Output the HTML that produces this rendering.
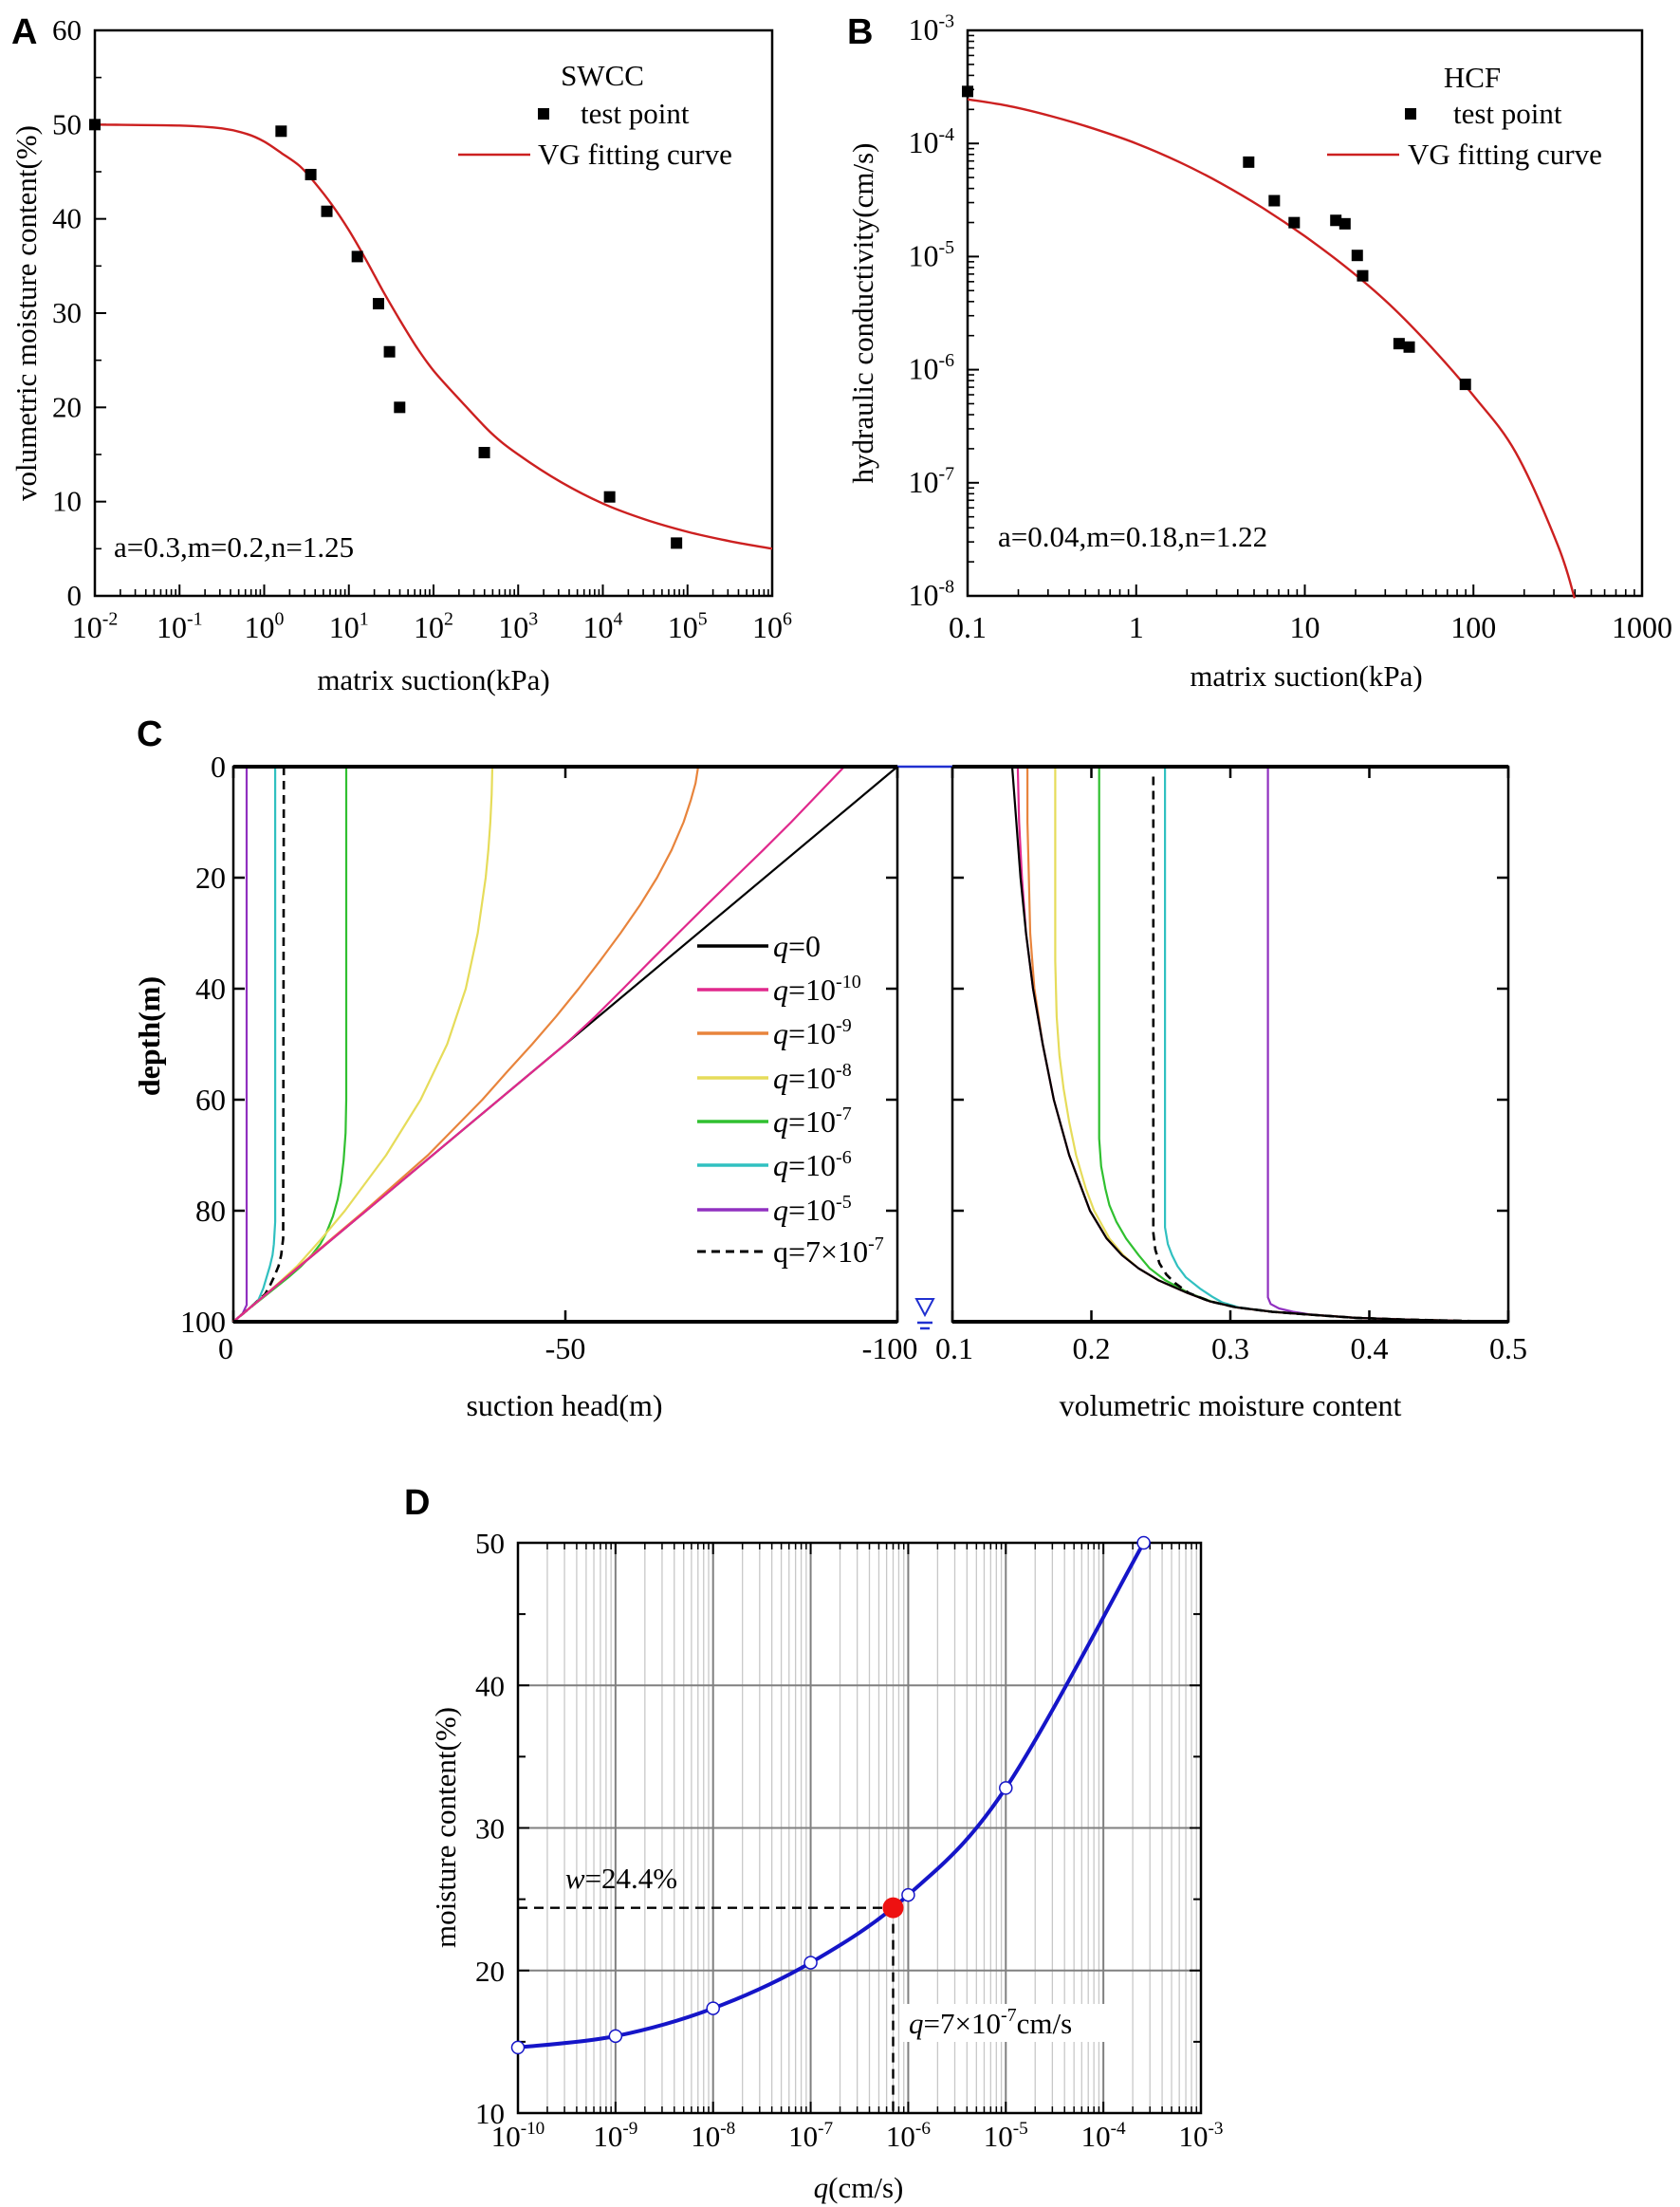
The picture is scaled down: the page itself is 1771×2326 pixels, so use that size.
<!DOCTYPE html>
<html><head><meta charset="utf-8"><style>
html,body{margin:0;padding:0;background:#fff;}
svg{display:block;font-family:"Liberation Serif",serif;}
</style></head><body>
<svg id="fig" width="1771" height="2326" viewBox="0 0 1771 2326" xmlns="http://www.w3.org/2000/svg">
<rect x="0" y="0" width="1771" height="2326" fill="#fff"/>
<text x="12" y="46" font-family="Liberation Sans, sans-serif" font-weight="bold" font-size="38">A</text>
<text x="893" y="46" font-family="Liberation Sans, sans-serif" font-weight="bold" font-size="38">B</text>
<text x="144" y="786" font-family="Liberation Sans, sans-serif" font-weight="bold" font-size="38">C</text>
<text x="426" y="1596" font-family="Liberation Sans, sans-serif" font-weight="bold" font-size="38">D</text>
</svg>
<script>
// ---------- Panel A data ----------
const aPointsLogX=[-2,0.2,0.55,0.74,1.1,1.35,1.48,1.6,2.6,4.08,4.87];
const aPointsY=[50,49.3,44.7,40.8,36,31,25.9,20,15.2,10.5,5.6];
const aCurveLogX=[-2,-1,-0.5,-0.2,0,0.2,0.42,0.6,0.8,1,1.2,1.4,1.6,1.8,2,2.3,2.68,3.0,3.5,4,4.5,5,5.5,6];
const aCurveY=[50,49.9,49.6,49.0,48.2,47.0,45.6,43.8,41.5,38.8,35.7,32.4,29.3,26.4,23.9,20.9,17.3,15.0,12.1,9.8,8.1,6.8,5.8,5.0];
const aYTicks=[0,10,20,30,40,50,60];
const aXDecades=[-2,-1,0,1,2,3,4,5,6];
// ---------- Panel B data ----------
const bPointsLogX=[-1,0.667,0.819,0.937,1.184,1.238,1.311,1.343,1.559,1.619,1.952];
const bPointsLogY=[-3.54,-4.165,-4.506,-4.70,-4.68,-4.71,-4.99,-5.17,-5.77,-5.80,-6.13];
const bCurveLogX=[-1,-0.75,-0.5,-0.25,0,0.25,0.5,0.75,1,1.25,1.5,1.75,2,2.25,2.5,2.6];
const bCurveLogY=[-3.61,-3.67,-3.76,-3.87,-4.0,-4.16,-4.35,-4.57,-4.82,-5.10,-5.42,-5.80,-6.23,-6.73,-7.55,-8.02];
const bXTickLabels=["0.1","1","10","100","1000"];
const bYDecades=[-8,-7,-6,-5,-4,-3];
// ---------- Panel C data (depth, suction head) ----------
const cNames=["q=0","q=1e-10","q=1e-9","q=1e-8","q=1e-7","q=1e-6","q=1e-5","q=7e-7"];
const cHeadDepth0=[0,100];            const cHead0=[-100,0];
const cHeadDepth10=[0,5,10,15,20,25,30,35,40,45,50,100]; const cHead10=[-92,-88,-84,-79.8,-75.5,-71.2,-67,-62.8,-58.7,-54.5,-50,0];
const cHeadDepth9=[0,3,6,10,15,20,25,30,35,40,45,50,55,60,70,80,100]; const cHead9=[-70,-69.6,-68.9,-67.8,-66,-63.8,-61.2,-58.3,-55.2,-52,-48.6,-45,-41.2,-37.5,-29.3,-19.8,0];
const cHeadDepth8=[0,5,10,15,20,30,40,50,60,70,80,85,90,95,100]; const cHead8=[-39,-38.9,-38.7,-38.4,-38,-36.8,-35,-32.2,-28.2,-23,-16.8,-13.3,-9.6,-5,0];
const cHeadDepth7=[0,60,66,71,75,78,81,84,86,88,90,92,94,96,98,100]; const cHead7=[-17,-17,-16.9,-16.6,-16.2,-15.7,-15,-14,-13.1,-11.8,-10.2,-8.3,-6.2,-4.1,-2,0];
const cHeadDepth6=[0,82,86,88,90,92,94,96,98,100]; const cHead6=[-6.3,-6.3,-6.1,-5.9,-5.5,-5,-4.5,-3.8,-2,0];
const cHeadDepth5=[0,97,98.5,100]; const cHead5=[-2,-2,-1.4,0];
const cHeadDepthD=[0,85,88,90,92,93.5,95,97,100]; const cHeadD=[-7.6,-7.5,-7.2,-6.8,-6.1,-5.5,-4.8,-3,0];
// (depth, volumetric moisture content)
const cThDepth0=[0,10,20,30,40,50,60,70,80,85,88,90.4,92.5,94.8,96.3,97.4,98.2,98.7,99.3,99.6,100]; const cTh0=[0.143,0.146,0.149,0.153,0.158,0.165,0.173,0.184,0.199,0.211,0.222,0.234,0.248,0.269,0.285,0.304,0.33,0.356,0.39,0.426,0.495];
const cThDepth10=[0,10,20,30,40,50,60,70,80,85,88,90.4,92.5,94.8,96.3,97.4,98.2,98.7,99.3,99.6,100]; const cTh10=[0.147,0.148,0.150,0.153,0.158,0.165,0.173,0.184,0.199,0.211,0.222,0.234,0.248,0.269,0.285,0.304,0.33,0.356,0.39,0.426,0.495];
const cThDepth9=[0,10,20,30,40,50,60,70,80,85,88,90.4,92.5,94.8,96.3,97.4,98.2,98.7,99.3,99.6,100]; const cTh9=[0.154,0.154,0.155,0.156,0.159,0.165,0.173,0.184,0.199,0.211,0.222,0.234,0.248,0.269,0.285,0.304,0.33,0.356,0.39,0.426,0.495];
const cThDepth8=[0,35,45,52,58,64,70,76,80,85,88,90.4,92.5,94.8,96.3,97.4,98.2,98.7,99.3,99.6,100]; const cTh8=[0.174,0.174,0.175,0.177,0.180,0.184,0.189,0.196,0.202,0.213,0.223,0.234,0.248,0.269,0.285,0.304,0.33,0.356,0.39,0.426,0.495];
const cThDepth7=[0,67,72,76,79,82,85,88,90.4,92.5,94.8,96.3,97.4,98.2,98.7,99.3,99.6,100]; const cTh7=[0.2056,0.2056,0.207,0.21,0.213,0.218,0.225,0.234,0.242,0.253,0.27,0.286,0.304,0.33,0.356,0.39,0.426,0.495];
const cThDepth6=[0,83,86,88,90,92,94,95.5,96.5,97.4,98.2,98.7,99.3,99.6,100]; const cTh6=[0.253,0.253,0.255,0.258,0.262,0.268,0.278,0.287,0.294,0.306,0.33,0.356,0.39,0.426,0.495];
const cThDepth5=[0,95.6,96.8,97.6,98.2,98.7,99.3,99.6,100]; const cTh5=[0.327,0.327,0.329,0.335,0.345,0.358,0.39,0.426,0.495];
const cThDepthD=[1.8,84,87,89.5,91.5,93,94.8,96.3,97.4,98.2,98.7,99.3,99.6,100]; const cThD=[0.2446,0.2446,0.246,0.249,0.254,0.26,0.27,0.285,0.304,0.33,0.356,0.39,0.426,0.495];
const cYTicks=[0,20,40,60,80,100];
const cHeadTicks=[0,-50,-100];
const cThTicks=[0.1,0.2,0.3,0.4,0.5];
// ---------- Panel D data ----------
const dLogQ=[-10,-9,-8,-7,-6,-5,-3.587];
const dMoisture=[14.6,15.4,17.35,20.55,25.3,32.8,50];
const dMarkLogQ=[-6.155];
const dMarkW=[24.4];
const dYTicks=[10,20,30,40,50];
const dXDecades=[-10,-9,-8,-7,-6,-5,-4,-3];

const NS="http://www.w3.org/2000/svg";
const svg=document.getElementById('fig');
function mk(tag,attrs,name,parent){
  const el=document.createElementNS(NS,tag);
  for(const k in attrs) el.setAttribute(k,attrs[k]);
  
  
  (parent||svg).appendChild(el);
  return el;
}
function txt(x,y,s,size,anchor,name,extra){
  const a={x:x,y:y,'font-size':size,'text-anchor':anchor||'start',fill:'#000'};
  if(extra) for(const k in extra) a[k]=extra[k];
  const t=mk('text',a,name);
  t.textContent=s;
  return t;
}
function pow(x,y,base,exp,size,anchor,name){
  const t=mk('text',{x:x,y:y,'font-size':size,'text-anchor':anchor||'middle',fill:'#000'},name);
  const b=mk('tspan',{},name+'-base',t);
  b.textContent=base;
  const e=mk('tspan',{dy:-size*0.42,'font-size':size*0.62},name+'-exp',t);
  e.textContent=exp;
  return t;
}
function line(x1,y1,x2,y2,stroke,w,name,dash){
  const a={x1:x1,y1:y1,x2:x2,y2:y2,stroke:stroke,'stroke-width':w};
  if(dash) a['stroke-dasharray']=dash;
  return mk('line',a,name);
}
function poly(xs,ys,fx,fy,stroke,w,name,dash){
  const pts=xs.map((v,i)=>fx(v).toFixed(1)+','+fy(ys[i]).toFixed(1)).join(' ');
  const a={points:pts,fill:'none',stroke:stroke,'stroke-width':w,'stroke-linejoin':'round'};
  if(dash) a['stroke-dasharray']=dash;
  return mk('polyline',a,name);
}
function smooth(xs,ys,fx,fy,stroke,w,name,dash){
  const P=xs.map((v,i)=>[fx(v),fy(ys[i])]);
  let d='M'+P[0][0].toFixed(1)+','+P[0][1].toFixed(1);
  for(let i=0;i<P.length-1;i++){
    const p0=P[i-1]||P[i],p1=P[i],p2=P[i+1],p3=P[i+2]||P[i+1];
    const c1=[p1[0]+(p2[0]-p0[0])/6,p1[1]+(p2[1]-p0[1])/6];
    const c2=[p2[0]-(p3[0]-p1[0])/6,p2[1]-(p3[1]-p1[1])/6];
    d+=' C'+c1[0].toFixed(1)+','+c1[1].toFixed(1)+' '+c2[0].toFixed(1)+','+c2[1].toFixed(1)+' '+p2[0].toFixed(1)+','+p2[1].toFixed(1);
  }
  const a={d:d,fill:'none',stroke:stroke,'stroke-width':w,'stroke-linejoin':'round'};
  if(dash) a['stroke-dasharray']=dash;
  return mk('path',a,name);
}
const MINOR=[2,3,4,5,6,7,8,9];

// ================= Panel A =================
const AL=100,AR=814,AT=32,AB=628;
const xA=lx=>AL+(lx+2)/8*(AR-AL);
const yA=v=>AB-v/60*(AB-AT);
mk('rect',{x:AL,y:AT,width:AR-AL,height:AB-AT,fill:'none',stroke:'#000','stroke-width':2.5},'panel-a-frame');
aXDecades.forEach(d=>{
  line(xA(d),AB,xA(d),AB-12,'#000',2,'a-x-tick');
  pow(xA(d),672,'10',String(d),32,'middle','a-x-tick-label');
  if(d<6) MINOR.forEach(m=>{line(xA(d+Math.log10(m)),AB,xA(d+Math.log10(m)),AB-7,'#000',1.6,'a-x-minor-tick');});
});
aYTicks.forEach(v=>{
  line(AL,yA(v),AL+12,yA(v),'#000',2,'a-y-tick');
  if(v<60) line(AL,yA(v+5),AL+7,yA(v+5),'#000',1.6,'a-y-minor-tick');
  txt(86,yA(v)+10,String(v),31,'end','a-y-tick-label');
});
txt(457,727,'matrix suction(kPa)',31,'middle','a-x-axis-title');
txt(0,0,'volumetric moisture content(%)',31,'middle','a-y-axis-title',{transform:'translate(38,330) rotate(-90)'});
smooth(aCurveLogX,aCurveY,xA,yA,'#cc2020',2.4,'a-vg-fitting-curve');
aPointsLogX.forEach((lx,i)=>{
  mk('rect',{x:xA(lx)-6,y:yA(aPointsY[i])-6,width:12,height:12,fill:'#000'},'a-test-point');
});
txt(635,90,'SWCC',31,'middle','a-legend-title');
mk('rect',{x:567,y:114,width:12,height:12,fill:'#000'},'a-legend-point-symbol');
txt(612,130,'test point',31,'start','a-legend-point-label');
line(483,163,559,163,'#cc2020',2.4,'a-legend-line-symbol');
txt(567,173,'VG fitting curve',31,'start','a-legend-line-label');
txt(120,587,'a=0.3,m=0.2,n=1.25',31,'start','a-parameters-annotation');

// ================= Panel B =================
const BL=1020,BR=1731,BT=32,BB=628;
const xB=lx=>BL+(lx+1)/4*(BR-BL);
const yB=ly=>BB-(ly+8)/5*(BB-BT);
mk('rect',{x:BL,y:BT,width:BR-BL,height:BB-BT,fill:'none',stroke:'#000','stroke-width':2.5},'panel-b-frame');
bXTickLabels.forEach((s,i)=>{
  const d=i-1;
  line(xB(d),BB,xB(d),BB-12,'#000',2,'b-x-tick');
  txt(xB(d),672,s,32,'middle','b-x-tick-label');
  if(d<3) MINOR.forEach(m=>{line(xB(d+Math.log10(m)),BB,xB(d+Math.log10(m)),BB-7,'#000',1.6,'b-x-minor-tick');});
});
bYDecades.forEach(d=>{
  line(BL,yB(d),BL+12,yB(d),'#000',2,'b-y-tick');
  pow(1006,yB(d)+10,'10',String(d),32,'end','b-y-tick-label');
  if(d<-3) MINOR.forEach(m=>{line(BL,yB(d+Math.log10(m)),BL+7,yB(d+Math.log10(m)),'#000',1.6,'b-y-minor-tick');});
});
txt(1377,723,'matrix suction(kPa)',31,'middle','b-x-axis-title');
txt(0,0,'hydraulic conductivity(cm/s)',31,'middle','b-y-axis-title',{transform:'translate(920,330) rotate(-90)'});
smooth(bCurveLogX,bCurveLogY,xB,yB,'#cc2020',2.4,'b-vg-fitting-curve');
bPointsLogX.forEach((lx,i)=>{
  mk('rect',{x:xB(lx)-6,y:yB(bPointsLogY[i])-6,width:12,height:12,fill:'#000'},'b-test-point');
});
txt(1552,92,'HCF',31,'middle','b-legend-title');
mk('rect',{x:1481,y:114,width:12,height:12,fill:'#000'},'b-legend-point-symbol');
txt(1532,130,'test point',31,'start','b-legend-point-label');
line(1399,163,1475,163,'#cc2020',2.4,'b-legend-line-symbol');
txt(1484,173,'VG fitting curve',31,'start','b-legend-line-label');
txt(1052,576,'a=0.04,m=0.18,n=1.22',31,'start','b-parameters-annotation');

// ================= Panel C =================
const CL=246,CM=946,CR1=1004,CR=1590,CT=808,CB=1393;
const xCL=h=>CL+(-h)/100*(CM-CL);
const xCR=t=>CR1+(t-0.1)/0.4*(CR-CR1);
const yC=d=>CT+d/100*(CB-CT);
mk('rect',{x:CL,y:CT,width:CM-CL,height:CB-CT,fill:'none',stroke:'#000','stroke-width':2.5},'c-left-frame');
mk('rect',{x:CR1,y:CT,width:CR-CR1,height:CB-CT,fill:'none',stroke:'#000','stroke-width':2.5},'c-right-frame');
line(CM,CT,CR1,CT,'#2030d0',2.5,'c-ground-surface-line');
cYTicks.forEach(d=>{
  line(CL,yC(d),CL+12,yC(d),'#000',2.5,'c-left-y-tick');
  line(CM,yC(d),CM-12,yC(d),'#000',2.5,'c-left-y-tick-right');
  line(CR1,yC(d),CR1+12,yC(d),'#000',2.5,'c-right-y-tick');
  line(CR,yC(d),CR-12,yC(d),'#000',2.5,'c-right-y-tick-right');
  txt(238,yC(d)+11,String(d),32,'end','c-y-tick-label');
});
cHeadTicks.forEach(h=>{
  line(xCL(h),CT,xCL(h),CT+12,'#000',2.5,'c-left-x-tick-top');
  line(xCL(h),CB,xCL(h),CB-12,'#000',2.5,'c-left-x-tick');
  txt(h===-100?xCL(h)-8:xCL(h),1432,String(h),32,h===0?'end':'middle','c-left-x-tick-label');
});
cThTicks.forEach(t=>{
  line(xCR(t),CT,xCR(t),CT+12,'#000',2.5,'c-right-x-tick-top');
  line(xCR(t),CB,xCR(t),CB-12,'#000',2.5,'c-right-x-tick');
  txt(t===0.1?xCR(t)+2:xCR(t),1432,String(t),32,'middle','c-right-x-tick-label');
});
txt(595,1492,'suction head(m)',32,'middle','c-left-x-axis-title');
txt(1297,1492,'volumetric moisture content',32,'middle','c-right-x-axis-title');
txt(0,0,'depth(m)',32,'middle','c-y-axis-title',{transform:'translate(168,1092) rotate(-90)','font-weight':'bold'});
mk('path',{d:'M966,1369 L984,1369 L975,1386 Z',fill:'none',stroke:'#2030d0','stroke-width':2},'c-water-table-symbol');
line(967,1394,983,1394,'#2030d0',2.5,'c-water-table-line1');
line(970,1400,980,1400,'#2030d0',2.5,'c-water-table-line2');
const cColors=['#000000','#e0288c','#e8843c','#e6dc5a','#30c030','#30c0c0','#9030c0','#000000'];
const cHeadSets=[[cHeadDepth0,cHead0],[cHeadDepth10,cHead10],[cHeadDepth9,cHead9],[cHeadDepth8,cHead8],[cHeadDepth7,cHead7],[cHeadDepth6,cHead6],[cHeadDepth5,cHead5],[cHeadDepthD,cHeadD]];
const cThSets=[[cThDepth0,cTh0],[cThDepth10,cTh10],[cThDepth9,cTh9],[cThDepth8,cTh8],[cThDepth7,cTh7],[cThDepth6,cTh6],[cThDepth5,cTh5],[cThDepthD,cThD]];
[0,6,5,7,4,3,2,1].forEach(i=>{
  const dash=i===7?'9,6':null;
  const w=i===7?2.6:2.2;
  poly(cHeadSets[i][1],cHeadSets[i][0],xCL,yC,cColors[i],w,'c-suction-curve-'+cNames[i],dash);
});
[6,5,4,3,2,1,0,7].forEach(i=>{
  const dash=i===7?'9,6':null;
  const w=i===7?2.6:2.2;
  poly(cThSets[i][1],cThSets[i][0],xCR,yC,cColors[i],w,'c-moisture-curve-'+cNames[i],dash);
});
line(CL,CT,CM,CT,'#000',4,'c-left-top-axis');line(CL,CB,CM,CB,'#000',4,'c-left-bottom-axis');
line(CR1,CT,CR,CT,'#000',4,'c-right-top-axis');line(CR1,CB,CR,CB,'#000',4,'c-right-bottom-axis');
const legY=[997,1043,1089,1136,1182,1228,1275,1319];
const legExp=[null,'-10','-9','-8','-7','-6','-5'];
legY.forEach((y,i)=>{
  line(735,y,810,y,cColors[i],i===7?3:3.5,'c-legend-line',i===7?'9,6':null);
  const t=mk('text',{x:815,y:y+11,'font-size':32,fill:'#000'},'c-legend-label');
  if(i===7){t.textContent='q=7×10';const e=mk('tspan',{dy:-13,'font-size':20},'c-legend-exp',t);e.textContent='-7';return;}
  const q=mk('tspan',{'font-style':'italic'},'c-legend-q',t);q.textContent='q';
  const b=mk('tspan',{},'c-legend-base',t);b.textContent=i===0?'=0':'=10';
  if(legExp[i]){const e=mk('tspan',{dy:-13,'font-size':20},'c-legend-exp',t);e.textContent=legExp[i];}
});

// ================= Panel D =================
const DL=546,DR=1266,DT=1626,DB=2227;
const xD=lq=>DL+(lq+10)/7*(DR-DL);
const yD=v=>DB-(v-10)/40*(DB-DT);
dXDecades.forEach(d=>{
  if(d<-3) MINOR.forEach(m=>{line(xD(d+Math.log10(m)),DT,xD(d+Math.log10(m)),DB,'#c8c8c8',1.3,'d-minor-gridline');});
});
dXDecades.forEach(d=>{ if(d>-10&&d<-3) line(xD(d),DT,xD(d),DB,'#808080',2,'d-major-gridline'); });
[20,30,40].forEach(v=>line(DL,yD(v),DR,yD(v),'#808080',2,'d-horizontal-gridline'));
mk('rect',{x:DL,y:DT,width:DR-DL,height:DB-DT,fill:'none',stroke:'#000','stroke-width':2.5},'panel-d-frame');
dXDecades.forEach(d=>{
  line(xD(d),DB,xD(d),DB-12,'#000',2,'d-x-tick');
  line(xD(d),DT,xD(d),DT+12,'#000',2,'d-x-tick-top');
  pow(xD(d),2262,'10',String(d),31,'middle','d-x-tick-label');
  if(d<-3) MINOR.forEach(m=>{line(xD(d+Math.log10(m)),DB,xD(d+Math.log10(m)),DB-7,'#000',1.5,'d-x-minor-tick');line(xD(d+Math.log10(m)),DT,xD(d+Math.log10(m)),DT+7,'#000',1.5,'d-x-minor-tick-top');});
});
dYTicks.forEach(v=>{
  line(DL,yD(v),DL+12,yD(v),'#000',2,'d-y-tick');
  line(DR,yD(v),DR-12,yD(v),'#000',2,'d-y-tick-right');
  if(v<50){line(DL,yD(v+5),DL+8,yD(v+5),'#000',2,'d-y-minor-tick');line(DR,yD(v+5),DR-8,yD(v+5),'#000',2,'d-y-minor-tick-right');}
  txt(532,yD(v)+11,String(v),31,'end','d-y-tick-label');
});
const dt=mk('text',{x:905,y:2316,'font-size':31,'text-anchor':'middle',fill:'#000'},'d-x-axis-title');
const dq=mk('tspan',{'font-style':'italic'},'d-x-axis-title-q',dt);dq.textContent='q';
const dr=mk('tspan',{},'d-x-axis-title-unit',dt);dr.textContent='(cm/s)';
txt(0,0,'moisture content(%)',31,'middle','d-y-axis-title',{transform:'translate(480,1926) rotate(-90)'});
line(DL,yD(dMarkW[0]),xD(dMarkLogQ[0]),yD(dMarkW[0]),'#000',2.4,'d-guide-horizontal','10,7');
line(xD(dMarkLogQ[0]),yD(dMarkW[0]),xD(dMarkLogQ[0]),DB,'#000',2.4,'d-guide-vertical','10,7');
smooth(dLogQ,dMoisture,xD,yD,'#1515c8',4,'d-moisture-curve');
dLogQ.forEach((q,i)=>{
  mk('circle',{cx:xD(q),cy:yD(dMoisture[i]),r:6.5,fill:'#fff',stroke:'#1515c8','stroke-width':1.5},'d-data-point');
});
mk('circle',{cx:xD(dMarkLogQ[0]),cy:yD(dMarkW[0]),r:11,fill:'#ee1111'},'d-selected-point');
const wl=mk('text',{x:655,y:1990,'font-size':31,'text-anchor':'middle',fill:'#000'},'d-w-annotation');
const wi=mk('tspan',{'font-style':'italic'},'d-w-annotation-w',wl);wi.textContent='w';
const wv=mk('tspan',{},'d-w-annotation-value',wl);wv.textContent='=24.4%';
mk('rect',{x:952,y:2112,width:216,height:40,fill:'#fff'},'d-q-annotation-bg');
const ql=mk('text',{x:958,y:2143,'font-size':31,fill:'#000'},'d-q-annotation');
const qi=mk('tspan',{'font-style':'italic'},'d-q-annotation-q',ql);qi.textContent='q';
const qv=mk('tspan',{},'d-q-annotation-value',ql);qv.textContent='=7×10';
const qe=mk('tspan',{dy:-13,'font-size':20},'d-q-annotation-exp',ql);qe.textContent='-7';
const qu=mk('tspan',{dy:13},'d-q-annotation-unit',ql);qu.textContent='cm/s';
</script>
</body></html>
